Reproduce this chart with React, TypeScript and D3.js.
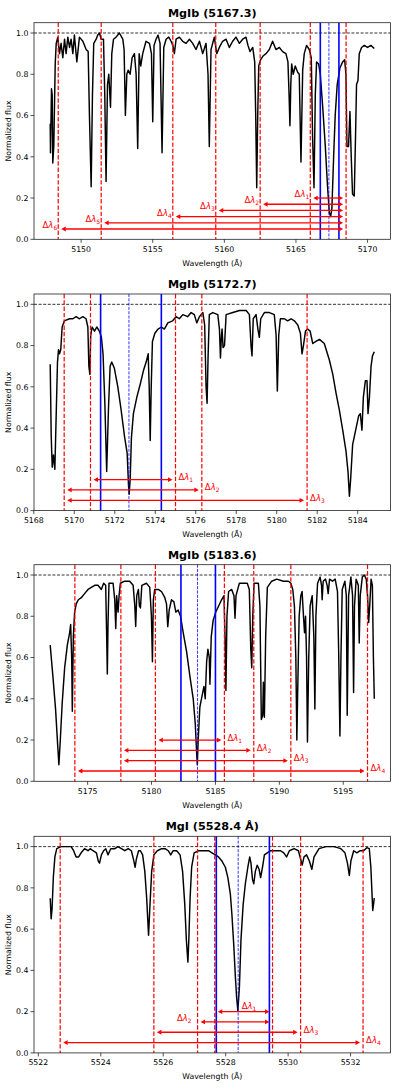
import React from "react";
import * as d3 from "d3";

const W = 399;
const H = 1090;

const titles = ["MgIb (5167.3)", "MgIb (5172.7)", "MgIb (5183.6)", "MgI (5528.4 Å)"];

// Spectra: [wavelength, normalized flux]
const spec1: [number, number][] = [
  [5147.84, 0.56], [5147.86, 0.42], [5147.93, 0.73], [5147.98, 0.7], [5148.02, 0.37], [5148.09, 0.45],
  [5148.19, 0.85], [5148.26, 0.95], [5148.37, 0.98], [5148.49, 0.9], [5148.6, 0.95], [5148.72, 0.88],
  [5148.84, 0.97], [5148.95, 0.9], [5149.07, 0.98], [5149.19, 0.93], [5149.3, 0.97], [5149.42, 0.9],
  [5149.53, 0.99], [5149.7, 0.86], [5149.88, 0.98], [5150.12, 0.96], [5150.35, 0.92], [5150.49, 0.91],
  [5150.58, 0.6], [5150.7, 0.255], [5150.79, 0.7], [5150.88, 0.95], [5151.05, 0.97], [5151.16, 0.99],
  [5151.28, 1.0], [5151.4, 0.97], [5151.56, 0.97], [5151.65, 0.7], [5151.74, 0.28], [5151.84, 0.75],
  [5151.93, 0.8], [5152.05, 0.64], [5152.14, 0.9], [5152.26, 0.97], [5152.44, 0.98], [5152.67, 1.0],
  [5152.91, 0.97], [5153.0, 0.92], [5153.09, 0.6], [5153.19, 0.8], [5153.28, 0.82], [5153.42, 0.8],
  [5153.56, 0.88], [5153.72, 0.9], [5153.84, 0.8], [5153.95, 0.44], [5154.05, 0.9], [5154.16, 0.84],
  [5154.3, 0.9], [5154.53, 0.96], [5154.77, 0.95], [5154.91, 0.9], [5155.0, 0.57], [5155.09, 0.94],
  [5155.23, 0.97], [5155.37, 0.99], [5155.51, 0.95], [5155.65, 0.42], [5155.77, 0.93], [5155.93, 0.97],
  [5156.12, 0.98], [5156.28, 0.96], [5156.4, 0.94], [5156.51, 0.9], [5156.63, 0.97], [5156.86, 0.98],
  [5157.09, 0.96], [5157.33, 0.95], [5157.56, 0.97], [5157.79, 0.95], [5158.02, 0.92], [5158.26, 0.96],
  [5158.49, 0.9], [5158.72, 0.95], [5158.86, 0.8], [5158.95, 0.45], [5159.07, 0.92], [5159.3, 0.98],
  [5159.47, 0.9], [5159.65, 0.93], [5159.88, 0.96], [5160.12, 0.97], [5160.35, 0.93], [5160.58, 0.96],
  [5160.81, 0.98], [5161.05, 0.95], [5161.28, 0.97], [5161.51, 0.98], [5161.65, 0.94], [5161.79, 0.91],
  [5161.98, 0.93], [5162.12, 0.86], [5162.19, 0.6], [5162.26, 0.25], [5162.33, 0.6], [5162.4, 0.84],
  [5162.53, 0.87], [5162.72, 0.89], [5162.91, 0.9], [5163.14, 0.92], [5163.37, 0.96], [5163.6, 0.92],
  [5163.84, 0.93], [5164.07, 0.91], [5164.3, 0.9], [5164.44, 0.86], [5164.52, 0.7], [5164.58, 0.55],
  [5164.64, 0.75], [5164.7, 0.85], [5164.81, 0.8], [5164.95, 0.84], [5165.12, 0.81], [5165.23, 0.8],
  [5165.35, 0.375], [5165.47, 0.82], [5165.58, 0.9], [5165.74, 0.94], [5165.93, 0.92], [5166.07, 0.88],
  [5166.16, 0.5], [5166.26, 0.25], [5166.35, 0.7], [5166.44, 0.86], [5166.58, 0.85], [5166.7, 0.8],
  [5166.86, 0.65], [5167.05, 0.45], [5167.21, 0.25], [5167.33, 0.13], [5167.42, 0.11], [5167.51, 0.15],
  [5167.63, 0.4], [5167.74, 0.6], [5167.88, 0.75], [5168.07, 0.83], [5168.26, 0.86], [5168.4, 0.87],
  [5168.49, 0.8], [5168.56, 0.45], [5168.67, 0.45], [5168.77, 0.62], [5168.86, 0.4], [5168.95, 0.22],
  [5169.07, 0.21], [5169.16, 0.5], [5169.23, 0.75], [5169.33, 0.77], [5169.42, 0.9], [5169.58, 0.93],
  [5169.77, 0.94], [5170.0, 0.93], [5170.23, 0.94], [5170.47, 0.925],
];

const spec2: [number, number][] = [
  [5168.81, 0.71], [5168.86, 0.36], [5168.91, 0.21], [5168.97, 0.27], [5169.04, 0.2], [5169.1, 0.44],
  [5169.17, 0.72], [5169.22, 0.78], [5169.27, 0.76], [5169.33, 0.78], [5169.4, 0.89], [5169.51, 0.92],
  [5169.76, 0.93], [5169.93, 0.93], [5170.09, 0.94], [5170.26, 0.93], [5170.42, 0.94], [5170.58, 0.93],
  [5170.67, 0.89], [5170.72, 0.7], [5170.77, 0.66], [5170.81, 0.85], [5170.88, 0.89], [5171.0, 0.87],
  [5171.11, 0.89], [5171.24, 0.87], [5171.34, 0.84], [5171.42, 0.76], [5171.51, 0.52], [5171.6, 0.19],
  [5171.69, 0.5], [5171.77, 0.7], [5171.85, 0.72], [5171.98, 0.69], [5172.15, 0.6], [5172.31, 0.49],
  [5172.48, 0.36], [5172.61, 0.28], [5172.68, 0.12], [5172.71, 0.08], [5172.76, 0.15], [5172.82, 0.35],
  [5172.92, 0.47], [5173.09, 0.55], [5173.25, 0.61], [5173.42, 0.68], [5173.55, 0.72], [5173.65, 0.76],
  [5173.7, 0.6], [5173.75, 0.34], [5173.8, 0.6], [5173.86, 0.82], [5173.98, 0.86], [5174.14, 0.88],
  [5174.3, 0.89], [5174.45, 0.88], [5174.62, 0.91], [5174.86, 0.92], [5175.03, 0.94], [5175.19, 0.93],
  [5175.36, 0.95], [5175.6, 0.94], [5175.77, 0.96], [5175.93, 0.95], [5176.05, 0.91], [5176.18, 0.94],
  [5176.35, 0.96], [5176.44, 0.9], [5176.51, 0.6], [5176.56, 0.52], [5176.61, 0.75], [5176.67, 0.95],
  [5176.84, 0.96], [5177.09, 0.95], [5177.17, 0.88], [5177.22, 0.74], [5177.27, 0.85], [5177.3, 0.88],
  [5177.35, 0.79], [5177.42, 0.8], [5177.5, 0.95], [5177.83, 0.96], [5178.16, 0.97], [5178.49, 0.97],
  [5178.65, 0.95], [5178.73, 0.8], [5178.78, 0.75], [5178.84, 0.93], [5178.98, 0.95], [5179.07, 0.88],
  [5179.14, 0.84], [5179.21, 0.93], [5179.39, 0.96], [5179.64, 0.96], [5179.88, 0.95], [5179.97, 0.85],
  [5180.03, 0.58], [5180.1, 0.85], [5180.18, 0.93], [5180.38, 0.93], [5180.54, 0.92], [5180.71, 0.93],
  [5180.87, 0.92], [5181.04, 0.9], [5181.17, 0.86], [5181.25, 0.76], [5181.32, 0.8], [5181.42, 0.87],
  [5181.53, 0.88], [5181.65, 0.87], [5181.78, 0.81], [5181.94, 0.82], [5182.11, 0.83], [5182.35, 0.81],
  [5182.6, 0.73], [5182.77, 0.66], [5182.93, 0.57], [5183.09, 0.49], [5183.26, 0.39], [5183.42, 0.29],
  [5183.52, 0.19], [5183.59, 0.07], [5183.65, 0.15], [5183.75, 0.32], [5183.92, 0.4], [5184.05, 0.46],
  [5184.13, 0.47], [5184.21, 0.39], [5184.28, 0.55], [5184.38, 0.63], [5184.46, 0.63], [5184.51, 0.47],
  [5184.58, 0.55], [5184.66, 0.7], [5184.73, 0.75], [5184.82, 0.77],
];

const spec3: [number, number][] = [
  [5172.07, 0.66], [5172.28, 0.51], [5172.49, 0.35], [5172.65, 0.18], [5172.75, 0.08], [5172.86, 0.2],
  [5173.01, 0.38], [5173.2, 0.55], [5173.41, 0.66], [5173.59, 0.72], [5173.67, 0.76], [5173.75, 0.6],
  [5173.8, 0.34], [5173.88, 0.7], [5173.98, 0.82], [5174.11, 0.86], [5174.27, 0.88], [5174.5, 0.89],
  [5174.76, 0.91], [5175.03, 0.93], [5175.29, 0.94], [5175.55, 0.95], [5175.81, 0.95], [5176.07, 0.93],
  [5176.25, 0.96], [5176.41, 0.95], [5176.49, 0.7], [5176.54, 0.52], [5176.59, 0.75], [5176.67, 0.96],
  [5176.99, 0.96], [5177.12, 0.88], [5177.2, 0.74], [5177.27, 0.9], [5177.38, 0.82], [5177.46, 0.9],
  [5177.56, 0.96], [5177.9, 0.97], [5178.29, 0.97], [5178.56, 0.95], [5178.69, 0.85], [5178.76, 0.75],
  [5178.84, 0.9], [5178.97, 0.93], [5179.05, 0.85], [5179.13, 0.84], [5179.24, 0.95], [5179.6, 0.96],
  [5179.86, 0.94], [5179.99, 0.8], [5180.07, 0.58], [5180.14, 0.88], [5180.25, 0.93], [5180.52, 0.93],
  [5180.78, 0.92], [5181.04, 0.89], [5181.17, 0.86], [5181.27, 0.75], [5181.38, 0.83], [5181.56, 0.88],
  [5181.75, 0.87], [5181.9, 0.82], [5182.08, 0.83], [5182.27, 0.8], [5182.48, 0.72], [5182.74, 0.63],
  [5183.0, 0.51], [5183.26, 0.4], [5183.42, 0.28], [5183.52, 0.15], [5183.58, 0.08], [5183.65, 0.2],
  [5183.78, 0.36], [5183.94, 0.41], [5184.1, 0.46], [5184.2, 0.4], [5184.31, 0.58], [5184.41, 0.64],
  [5184.52, 0.6], [5184.57, 0.47], [5184.67, 0.7], [5184.82, 0.78], [5185.02, 0.82], [5185.25, 0.85],
  [5185.48, 0.88], [5185.67, 0.9], [5185.75, 0.7], [5185.82, 0.44], [5185.9, 0.8], [5186.03, 0.92],
  [5186.27, 0.93], [5186.45, 0.9], [5186.53, 0.79], [5186.61, 0.9], [5186.87, 0.96], [5187.18, 0.96],
  [5187.49, 0.96], [5187.65, 0.93], [5187.76, 0.65], [5187.84, 0.55], [5187.92, 0.8], [5188.02, 0.96],
  [5188.36, 0.96], [5188.48, 0.85], [5188.59, 0.3], [5188.7, 0.32], [5188.75, 0.48], [5188.83, 0.31],
  [5188.93, 0.7], [5189.06, 0.94], [5189.4, 0.97], [5189.8, 0.98], [5190.32, 0.97], [5190.71, 0.97],
  [5190.9, 0.96], [5191.05, 0.93], [5191.18, 0.85], [5191.29, 0.6], [5191.37, 0.2], [5191.44, 0.45],
  [5191.55, 0.8], [5191.68, 0.9], [5191.78, 0.92], [5191.89, 0.8], [5191.97, 0.72], [5192.05, 0.8],
  [5192.13, 0.6], [5192.2, 0.19], [5192.3, 0.6], [5192.41, 0.85], [5192.57, 0.9], [5192.7, 0.7],
  [5192.78, 0.35], [5192.86, 0.8], [5192.99, 0.96], [5193.19, 0.99], [5193.3, 0.95], [5193.35, 0.88],
  [5193.43, 0.97], [5193.61, 0.98], [5193.74, 0.95], [5193.82, 0.91], [5193.93, 0.98], [5194.16, 0.97],
  [5194.37, 0.98], [5194.55, 0.92], [5194.65, 0.6], [5194.74, 0.22], [5194.82, 0.6], [5194.92, 0.93],
  [5195.13, 0.97], [5195.24, 0.9], [5195.31, 0.32], [5195.42, 0.9], [5195.6, 0.99], [5195.73, 0.9],
  [5195.81, 0.43], [5195.88, 0.85], [5196.01, 0.98], [5196.18, 0.95], [5196.25, 0.67], [5196.33, 0.9],
  [5196.49, 0.99], [5196.65, 1.0], [5196.8, 0.98], [5196.9, 0.9], [5196.99, 0.77], [5197.07, 0.85],
  [5197.18, 0.98], [5197.28, 0.95], [5197.36, 0.6], [5197.43, 0.4],
];

const spec4: [number, number][] = [
  [5522.38, 0.75], [5522.41, 0.65], [5522.44, 0.7], [5522.48, 0.85], [5522.53, 0.95], [5522.59, 0.99],
  [5522.73, 1.0], [5522.89, 1.0], [5523.05, 1.0], [5523.13, 0.98], [5523.21, 0.95], [5523.29, 0.95],
  [5523.37, 0.97], [5523.48, 0.99], [5523.59, 0.98], [5523.66, 0.99], [5523.75, 0.98], [5523.86, 0.97],
  [5523.92, 0.93], [5523.96, 0.92], [5524.02, 0.96], [5524.09, 0.98], [5524.16, 0.99], [5524.23, 0.96],
  [5524.32, 0.99], [5524.45, 0.99], [5524.55, 1.0], [5524.66, 0.99], [5524.77, 0.98], [5524.88, 0.99],
  [5524.98, 0.98], [5525.06, 0.93], [5525.1, 0.9], [5525.14, 0.94], [5525.21, 0.98], [5525.27, 0.98],
  [5525.34, 0.96], [5525.41, 0.88], [5525.47, 0.75], [5525.53, 0.57], [5525.57, 0.7], [5525.63, 0.88],
  [5525.7, 0.96], [5525.81, 0.98], [5525.95, 0.99], [5526.06, 0.99], [5526.16, 0.98], [5526.24, 0.96],
  [5526.32, 0.98], [5526.43, 0.98], [5526.54, 0.96], [5526.62, 0.88], [5526.69, 0.72], [5526.74, 0.55],
  [5526.79, 0.44], [5526.82, 0.55], [5526.86, 0.75], [5526.91, 0.9], [5526.99, 0.97], [5527.13, 0.98],
  [5527.29, 0.98], [5527.45, 0.98], [5527.56, 0.97], [5527.67, 0.96], [5527.77, 0.95], [5527.88, 0.93],
  [5527.99, 0.9], [5528.07, 0.85], [5528.15, 0.77], [5528.2, 0.67], [5528.26, 0.52], [5528.31, 0.37],
  [5528.35, 0.27], [5528.39, 0.205], [5528.44, 0.32], [5528.49, 0.55], [5528.56, 0.72], [5528.63, 0.82],
  [5528.71, 0.9], [5528.77, 0.95], [5528.81, 0.92], [5528.86, 0.84], [5528.9, 0.82], [5528.95, 0.88],
  [5529.01, 0.91], [5529.07, 0.89], [5529.12, 0.85], [5529.18, 0.9], [5529.24, 0.96], [5529.33, 0.97],
  [5529.44, 0.98], [5529.6, 0.98], [5529.76, 0.98], [5529.86, 0.97], [5529.95, 0.95], [5530.04, 0.98],
  [5530.19, 0.99], [5530.33, 0.98], [5530.4, 0.94], [5530.45, 0.91], [5530.51, 0.95], [5530.59, 0.96],
  [5530.68, 0.93], [5530.76, 0.89], [5530.83, 0.95], [5530.99, 0.99], [5531.21, 1.0], [5531.47, 1.0],
  [5531.69, 0.99], [5531.82, 0.97], [5531.9, 0.92], [5531.96, 0.86], [5532.01, 0.93], [5532.1, 0.98],
  [5532.2, 0.97], [5532.31, 0.98], [5532.42, 0.98], [5532.52, 0.995], [5532.6, 0.99], [5532.65, 0.9],
  [5532.71, 0.69], [5532.76, 0.75],
];

const xTicks1 = [5150, 5155, 5160, 5165, 5170];
const xTicks2 = [5168, 5170, 5172, 5174, 5176, 5178, 5180, 5182, 5184];
const xTicks3 = [5175, 5180, 5185, 5190, 5195];
const xTicks4 = [5522, 5524, 5526, 5528, 5530, 5532];
const yTicks = [0, 0.2, 0.4, 0.6, 0.8, 1.0];

const centers = [5167.3, 5172.7, 5183.6, 5528.4];
const blue1 = [5166.7, 5168.0];
const blue2 = [5171.3, 5174.3];
const blue3 = [5182.3, 5185.0];
const blue4 = [5527.7, 5529.4];
const red1 = [5148.4, 5151.4, 5156.4, 5159.4, 5162.5, 5166.0, 5168.5];
const red2 = [5169.5, 5170.8, 5175.0, 5176.3, 5181.5];
const red3 = [5174.0, 5177.6, 5180.3, 5185.7, 5188.0, 5190.9, 5196.9];
const red4 = [5522.7, 5525.7, 5527.1, 5527.65, 5529.5, 5530.4, 5532.4];

// arrows: [from, to, flux level]
const arrows1: [number, number, number][] = [
  [5166.0, 5168.5, 0.2], [5162.5, 5168.5, 0.17], [5159.4, 5168.5, 0.14],
  [5156.4, 5168.5, 0.11], [5151.4, 5168.5, 0.08], [5148.4, 5168.5, 0.05],
];
const arrows2: [number, number, number][] = [
  [5170.8, 5175.0, 0.15], [5169.5, 5176.3, 0.1], [5169.5, 5181.5, 0.05],
];
const arrows3: [number, number, number][] = [
  [5180.3, 5185.7, 0.2], [5177.6, 5188.0, 0.15], [5177.6, 5190.9, 0.1], [5174.0, 5196.9, 0.05],
];
const arrows4: [number, number, number][] = [
  [5527.65, 5529.5, 0.2], [5527.1, 5529.5, 0.15], [5525.7, 5530.4, 0.1], [5522.7, 5532.4, 0.05],
];

const labelSide1 = ["left", "left", "left", "left", "left", "left"];
const labelSide2 = ["right", "right", "right"];
const labelSide3 = ["right", "right", "right", "right"];
const labelSide4 = ["above", "left", "right", "right"];

const panels = [
  { spec: spec1, ticks: xTicks1, red: red1, blue: blue1, arrows: arrows1, sides: labelSide1 },
  { spec: spec2, ticks: xTicks2, red: red2, blue: blue2, arrows: arrows2, sides: labelSide2 },
  { spec: spec3, ticks: xTicks3, red: red3, blue: blue3, arrows: arrows3, sides: labelSide3 },
  { spec: spec4, ticks: xTicks4, red: red4, blue: blue4, arrows: arrows4, sides: labelSide4 },
];

const tops = [22.7, 294, 564.7, 836.3];
const AX_H = 216.6;
const AX_L = 34;
const AX_R = 390.5;
const FONT = "DejaVu Sans, Liberation Sans, sans-serif";

function DLabel({ x, y, i, anchor }: { x: number; y: number; i: number; anchor: string }) {
  return (
    <text x={x} y={y} fill="red" fontSize={8.5} fontFamily={FONT} textAnchor={anchor}>
      <tspan>Δ</tspan>
      <tspan fontStyle="italic">λ</tspan>
      <tspan fontSize={6} dy={2}>{i}</tspan>
    </text>
  );
}

function Panel({ idx }: { idx: number }) {
  const p = panels[idx];
  const top = tops[idx];
  const bottom = top + AX_H;
  const ext = d3.extent(p.spec, (d) => d[0]) as [number, number];
  const pad = (ext[1] - ext[0]) * 0.05;
  const x = d3.scaleLinear().domain([ext[0] - pad, ext[1] + pad]).range([AX_L, AX_R]);
  const y = d3.scaleLinear().domain([0, 1.05]).range([bottom, top]);
  const line = d3.line<[number, number]>().x((d) => x(d[0])).y((d) => y(d[1]));
  const shrink = 3;
  const head = 4.5;
  const hw = 2.4;
  return (
    <g>
      <text x={(AX_L + AX_R) / 2} y={top - 6} textAnchor="middle" fontFamily={FONT} fontWeight="bold" fontSize={11.2}>
        {titles[idx]}
      </text>
      <path d={line(p.spec) || ""} fill="none" stroke="black" strokeWidth={1.45} strokeLinejoin="round" />
      <line x1={AX_L} x2={AX_R} y1={y(1)} y2={y(1)} stroke="black" strokeWidth={0.8} strokeDasharray="3,1.6" />
      {p.red.map((v, i) => (
        <line key={"r" + i} x1={x(v)} x2={x(v)} y1={top} y2={bottom} stroke="red" strokeWidth={1.2} strokeDasharray="4.4,1.9" />
      ))}
      {p.blue.map((v, i) => (
        <line key={"b" + i} x1={x(v)} x2={x(v)} y1={top} y2={bottom} stroke="blue" strokeWidth={1.6} />
      ))}
      <line x1={x(centers[idx])} x2={x(centers[idx])} y1={top} y2={bottom} stroke="blue" strokeWidth={0.8} strokeDasharray="3,1.3" />
      {p.arrows.map((a, i) => {
        const x0 = x(a[0]) + shrink;
        const x1 = x(a[1]) - shrink;
        const yy = y(a[2]);
        const side = p.sides[i];
        let lbl;
        if (side === "left") {
          lbl = <DLabel x={x0 - (idx === 3 ? 9 : 4)} y={yy - 1} i={i + 1} anchor="end" />;
        } else if (side === "right") {
          lbl = <DLabel x={x1 + 6} y={yy + 0.5} i={i + 1} anchor="start" />;
        } else {
          lbl = <DLabel x={(x0 + x1) / 2 - 2} y={yy - 2.5} i={i + 1} anchor="start" />;
        }
        return (
          <g key={"a" + i}>
            <line x1={x0 + head - 0.5} x2={x1 - head + 0.5} y1={yy} y2={yy} stroke="red" strokeWidth={1.3} />
            <path d={`M${x0},${yy}L${x0 + head},${yy - hw}L${x0 + head},${yy + hw}Z`} fill="red" />
            <path d={`M${x1},${yy}L${x1 - head},${yy - hw}L${x1 - head},${yy + hw}Z`} fill="red" />
            {lbl}
          </g>
        );
      })}
      <rect x={AX_L} y={top} width={AX_R - AX_L} height={AX_H} fill="none" stroke="#222" strokeWidth={0.8} />
      {yTicks.map((t) => (
        <g key={"yt" + t}>
          <line x1={AX_L - 3.5} x2={AX_L} y1={y(t)} y2={y(t)} stroke="#222" strokeWidth={0.8} />
          <text x={AX_L - 5.5} y={y(t)} dy="0.35em" textAnchor="end" fontFamily={FONT} fontSize={7.8}>
            {t.toFixed(1)}
          </text>
        </g>
      ))}
      {p.ticks.map((t) => (
        <g key={"xt" + t}>
          <line x1={x(t)} x2={x(t)} y1={bottom} y2={bottom + 3.5} stroke="#222" strokeWidth={0.8} />
          <text x={x(t)} y={bottom + 12.5} textAnchor="middle" fontFamily={FONT} fontSize={7.8}>
            {t}
          </text>
        </g>
      ))}
      <text x={(AX_L + AX_R) / 2} y={bottom + 26.5} textAnchor="middle" fontFamily={FONT} fontSize={7.8}>
        Wavelength (Å)
      </text>
      <text
        transform={`translate(11,${(top + bottom) / 2}) rotate(-90)`}
        textAnchor="middle"
        fontFamily={FONT}
        fontSize={7.8}
      >
        Normalized flux
      </text>
    </g>
  );
}

export default function App() {
  return (
    <svg width={W} height={H} style={{ position: "absolute", left: 0, top: 0, background: "white" }}>
      <rect x={0} y={0} width={W} height={H} fill="white" />
      {[0, 1, 2, 3].map((i) => (
        <Panel key={i} idx={i} />
      ))}
    </svg>
  );
}
